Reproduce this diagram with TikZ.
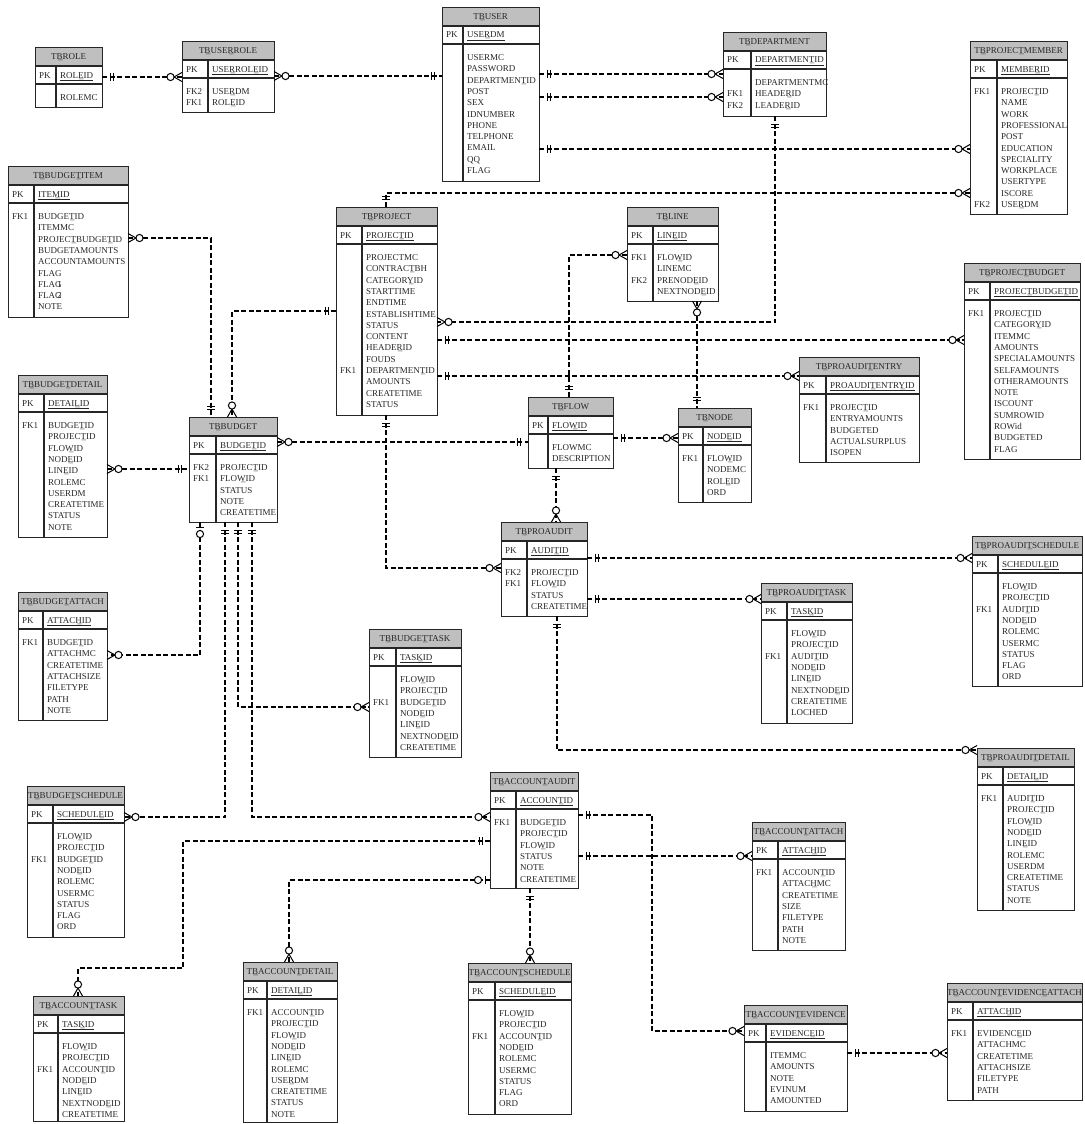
\documentclass[tikz,border=0pt]{standalone}
\usepackage{fontspec}
\setmainfont{Liberation Serif}

\newcommand{\us}{\llap{\_}}
\newcommand{\etable}[9]{%
  \def\tabx{#2}\def\taby{#3}%
  \fill[headfill] (#2,#3) rectangle ++(#4,19);
  \node[tbox, minimum width=#4pt, minimum height=#5pt] (#1) at (#2,#3) {};
  \draw[tline] (#2,#3+19) -- ++(#4,0) (#2,#3+37) -- ++(#4,0) (#2+#6,#3+19) -- (#2+#6,#3+#5);
  \node[ttext] at (#2+#4/2,#3+12.5) {#7};
  \node[ftext] at (#2+4,#3+31) {PK};
  \node[ftext] at (#2+#6+4,#3+31) {\underline{#8}};
  \foreach \fname [count=\fidx] in {#9} \node[ftext] at (#2+#6+4,#3+42.2+\fidx*11.3) {\fname};
}
\newcommand{\tkeys}[1]{\foreach \krow/\klab in {#1} \node[ftext] at (\tabx+4,\taby+42.2+\krow*11.3) {\klab};}
\newcommand{\mandone}[2]{\begin{scope}[shift={(#1)},rotate=#2]
  \draw[sym] (8,-4) -- (8,4) (11,-4) -- (11,4);
\end{scope}}
\newcommand{\zeromany}[2]{\begin{scope}[shift={(#1)},rotate=#2]
  \draw[sym] (0,-4.5) -- (8,0) -- (0,4.5);
  \draw[sym,fill=white] (11.5,0) circle[radius=3.6pt];
\end{scope}}
\newcommand{\zeroone}[2]{\begin{scope}[shift={(#1)},rotate=#2]
  \draw[sym] (5,-4) -- (5,4);
  \draw[sym,fill=white] (12,0) circle[radius=3.6pt];
\end{scope}}

\begin{document}
\begin{tikzpicture}[x=1pt,y=-1pt,
  tbox/.style={draw=black!85, line width=1.2pt, rectangle, anchor=north west, inner sep=0pt},
  tline/.style={draw=black!85, line width=1.2pt},
  headfill/.style={fill=black!25},
  ttext/.style={anchor=base, inner sep=0pt, font=\fontsize{9}{11}\selectfont, text=black!85},
  ftext/.style={anchor=base west, inner sep=0pt, font=\fontsize{9}{11}\selectfont, text=black!85},
  rel/.style={draw=black, line width=1.7pt, dash pattern=on 5pt off 2.5pt},
  sym/.style={draw=black, line width=1pt, solid}]
\useasboundingbox (0,0) rectangle (1084,1124);
\clip (0,0) rectangle (1084,1124);

\etable{role}{35}{47}{67}{60}{21}{TB\us ROLE}{ROLE\us ID}{ROLEMC}
\etable{urole}{182}{41}{92}{71}{26}{TB\us USER\us ROLE}{USER\us ROLE\us ID}{USER\us DM,ROLE\us ID}
\tkeys{1/FK2,2/FK1}
\etable{user}{442}{7}{97}{174}{21}{TB\us USER}{USER\us DM}{USERMC,PASSWORD,DEPARTMENT\us ID,POST,SEX,IDNUMBER,PHONE,TELPHONE,EMAIL,QQ,FLAG}
\etable{dept}{723}{32}{103}{84}{28}{TB\us DEPARTMENT}{DEPARTMENT\us ID}{DEPARTMENTMC,HEADER\us ID,LEADER\us ID}
\tkeys{2/FK1,3/FK2}
\etable{member}{970}{41}{97}{173}{27}{TB\us PROJECT\us MEMBER}{MEMBER\us ID}{PROJECT\us ID,NAME,WORK,PROFESSIONAL,POST,EDUCATION,SPECIALITY,WORKPLACE,USERTYPE,ISCORE,USER\us DM}
\tkeys{1/FK1,11/FK2}
\etable{bitem}{8}{166}{120}{151}{26}{TB\us BUDGET\us ITEM}{ITEM\us ID}{BUDGET\us ID,ITEMMC,PROJECT\us BUDGET\us ID,BUDGETAMOUNTS,ACCOUNTAMOUNTS,FLAG,FLAG\llap{1},FLAG\llap{2},NOTE}
\tkeys{1/FK1}
\etable{project}{336}{207}{101}{208}{26}{TB\us PROJECT}{PROJECT\us ID}{PROJECTMC,CONTRACT\us BH,CATEGORY\us ID,STARTTIME,ENDTIME,ESTABLISHTIME,STATUS,CONTENT,HEADER\us ID,FOUDS,DEPARTMENT\us ID,AMOUNTS,CREATETIME,STATUS}
\tkeys{11/FK1}
\etable{line}{627}{207}{91}{94}{26}{TB\us LINE}{LINE\us ID}{FLOW\us ID,LINEMC,PRENODE\us ID,NEXTNODE\us ID}
\tkeys{1/FK1,3/FK2}
\etable{pbudget}{964}{263}{116}{196}{26}{TB\us PROJECT\us BUDGET}{PROJECT\us BUDGET\us ID}{PROJECT\us ID,CATEGORY\us ID,ITEMMC,AMOUNTS,SPECIALAMOUNTS,SELFAMOUNTS,OTHERAMOUNTS,NOTE,ISCOUNT,SUMROWID,ROWid,BUDGETED,FLAG}
\tkeys{1/FK1}
\etable{entry}{799}{357}{120}{105}{27}{TB\us PROAUDIT\us ENTRY}{PROAUDIT\us ENTRY\us ID}{PROJECT\us ID,ENTRYAMOUNTS,BUDGETED,ACTUALSURPLUS,ISOPEN}
\tkeys{1/FK1}
\etable{flow}{528}{397}{85}{71}{20}{TB\us FLOW}{FLOW\us ID}{FLOWMC,DESCRIPTION}
\etable{node}{678}{408}{73}{94}{25}{TB\us NODE}{NODE\us ID}{FLOW\us ID,NODEMC,ROLE\us ID,ORD}
\tkeys{1/FK1}
\etable{bdetail}{18}{375}{89}{162}{26}{TB\us BUDGET\us DETAIL}{DETAIL\us ID}{BUDGET\us ID,PROJECT\us ID,FLOW\us ID,NODE\us ID,LINE\us ID,ROLEMC,USERDM,CREATETIME,STATUS,NOTE}
\tkeys{1/FK1}
\etable{budget}{189}{417}{88}{105}{27}{TB\us BUDGET}{BUDGET\us ID}{PROJECT\us ID,FLOW\us ID,STATUS,NOTE,CREATETIME}
\tkeys{1/FK2,2/FK1}
\etable{battach}{18}{592}{89}{128}{25}{TB\us BUDGET\us ATTACH}{ATTACH\us ID}{BUDGET\us ID,ATTACHMC,CREATETIME,ATTACHSIZE,FILETYPE,PATH,NOTE}
\tkeys{1/FK1}
\etable{paudit}{501}{522}{86}{94}{26}{TB\us PROAUDIT}{AUDIT\us ID}{PROJECT\us ID,FLOW\us ID,STATUS,CREATETIME}
\tkeys{1/FK2,2/FK1}
\etable{pschedule}{972}{536}{110}{150}{26}{TB\us PROAUDIT\us SCHEDULE}{SCHEDULE\us ID}{FLOW\us ID,PROJECT\us ID,AUDIT\us ID,NODE\us ID,ROLEMC,USERMC,STATUS,FLAG,ORD}
\tkeys{3/FK1}
\etable{ptask}{761}{583}{91}{140}{26}{TB\us PROAUDIT\us TASK}{TASK\us ID}{FLOW\us ID,PROJECT\us ID,AUDIT\us ID,NODE\us ID,LINE\us ID,NEXTNODE\us ID,CREATETIME,LOCHED}
\tkeys{3/FK1}
\etable{pdetail}{977}{748}{97}{162}{26}{TB\us PROAUDIT\us DETAIL}{DETAIL\us ID}{AUDIT\us ID,PROJECT\us ID,FLOW\us ID,NODE\us ID,LINE\us ID,ROLEMC,USERDM,CREATETIME,STATUS,NOTE}
\tkeys{1/FK1}
\etable{btask}{369}{629}{92}{128}{27}{TB\us BUDGET\us TASK}{TASK\us ID}{FLOW\us ID,PROJECT\us ID,BUDGET\us ID,NODE\us ID,LINE\us ID,NEXTNODE\us ID,CREATETIME}
\tkeys{3/FK1}
\etable{aaudit}{490}{772}{88}{116}{26}{TB\us ACCOUNT\us AUDIT}{ACCOUNT\us ID}{BUDGET\us ID,PROJECT\us ID,FLOW\us ID,STATUS,NOTE,CREATETIME}
\tkeys{1/FK1}
\etable{aattach}{752}{822}{93}{128}{26}{TB\us ACCOUNT\us ATTACH}{ATTACH\us ID}{ACCOUNT\us ID,ATTACH\us MC,CREATETIME,SIZE,FILETYPE,PATH,NOTE}
\tkeys{1/FK1}
\etable{bschedule}{27}{786}{97}{151}{26}{TB\us BUDGET\us SCHEDULE}{SCHEDULE\us ID}{FLOW\us ID,PROJECT\us ID,BUDGET\us ID,NODE\us ID,ROLEMC,USERMC,STATUS,FLAG,ORD}
\tkeys{3/FK1}
\etable{atask}{33}{996}{91}{125}{25}{TB\us ACCOUNT\us TASK}{TASK\us ID}{FLOW\us ID,PROJECT\us ID,ACCOUNT\us ID,NODE\us ID,LINE\us ID,NEXTNODE\us ID,CREATETIME}
\tkeys{3/FK1}
\etable{adetail}{243}{962}{94}{160}{24}{TB\us ACCOUNT\us DETAIL}{DETAIL\us ID}{ACCOUNT\us ID,PROJECT\us ID,FLOW\us ID,NODE\us ID,LINE\us ID,ROLEMC,USER\us DM,CREATETIME,STATUS,NOTE}
\tkeys{1/FK1}
\etable{aschedule}{468}{963}{103}{151}{27}{TB\us ACCOUNT\us SCHEDULE}{SCHEDULE\us ID}{FLOW\us ID,PROJECT\us ID,ACCOUNT\us ID,NODE\us ID,ROLEMC,USERMC,STATUS,FLAG,ORD}
\tkeys{3/FK1}
\etable{evidence}{744}{1005}{103}{106}{22}{TB\us ACCOUNT\us EVIDENCE}{EVIDENCE\us ID}{ITEMMC,AMOUNTS,NOTE,EVINUM,AMOUNTED}
\etable{eattach}{947}{983}{135}{117}{26}{TB\us ACCOUNT\us EVIDENCE\us ATTACH}{ATTACH\us ID}{EVIDENCE\us ID,ATTACHMC,CREATETIME,ATTACHSIZE,FILETYPE,PATH}
\tkeys{1/FK1}

\coordinate (role-r) at (102,77);
\coordinate (urole-l) at (182,77);
\coordinate (urole-r) at (274,76);
\coordinate (user-l) at (442,76);
\coordinate (user-r1) at (539,74);
\coordinate (dept-l1) at (723,74);
\coordinate (user-r2) at (539,97);
\coordinate (dept-l2) at (723,97);
\coordinate (user-r3) at (539,149);
\coordinate (member-l1) at (970,149);
\coordinate (project-t) at (386,207);
\coordinate (member-l2) at (970,193);
\coordinate (dept-b) at (775,116);
\coordinate (project-r1) at (437,322);
\coordinate (project-r2) at (437,340);
\coordinate (pbudget-l) at (964,340);
\coordinate (project-r3) at (437,376);
\coordinate (entry-l) at (799,376);
\coordinate (flow-t) at (569,397);
\coordinate (line-l) at (627,255);
\coordinate (line-b) at (697,301);
\coordinate (node-t) at (697,408);
\coordinate (flow-r) at (613,438);
\coordinate (node-l) at (678,438);
\coordinate (budget-r) at (277,442);
\coordinate (flow-l) at (528,442);
\coordinate (bitem-r) at (128,238);
\coordinate (budget-t1) at (211,417);
\coordinate (project-l) at (336,311);
\coordinate (budget-t2) at (232,417);
\coordinate (bdetail-r) at (107,469);
\coordinate (budget-l) at (189,469);
\coordinate (budget-b1) at (200,522);
\coordinate (battach-r) at (107,655);
\coordinate (budget-b2) at (225,522);
\coordinate (bschedule-r) at (124,817);
\coordinate (budget-b3) at (238,522);
\coordinate (btask-l) at (369,707);
\coordinate (budget-b4) at (252,522);
\coordinate (aaudit-l1) at (490,817);
\coordinate (project-b) at (386,415);
\coordinate (paudit-l) at (501,568);
\coordinate (flow-b) at (556,468);
\coordinate (paudit-t) at (556,522);
\coordinate (paudit-r1) at (587,558);
\coordinate (pschedule-l) at (972,558);
\coordinate (paudit-r2) at (587,599);
\coordinate (ptask-l) at (761,599);
\coordinate (paudit-b) at (557,616);
\coordinate (pdetail-l) at (977,750);
\coordinate (aaudit-r1) at (578,815);
\coordinate (bend1) at (652,815);
\coordinate (evidence-l) at (744,1031);
\coordinate (aaudit-r2) at (578,856);
\coordinate (aattach-l) at (752,856);
\coordinate (aaudit-l2) at (490,841);
\coordinate (bend2) at (183,841);
\coordinate (bend3) at (183,968);
\coordinate (bend4) at (78,968);
\coordinate (atask-t) at (78,996);
\coordinate (aaudit-l3) at (490,880);
\coordinate (adetail-t) at (289,962);
\coordinate (aaudit-b) at (530,888);
\coordinate (aschedule-t) at (530,963);
\coordinate (evidence-r) at (847,1053);
\coordinate (eattach-l) at (947,1053);

\draw[rel] (role-r) -- (urole-l);
\draw[rel] (urole-r) -- (user-l);
\draw[rel] (user-r1) -- (dept-l1);
\draw[rel] (user-r2) -- (dept-l2);
\draw[rel] (user-r3) -- (member-l1);
\draw[rel] (project-t) |- (member-l2);
\draw[rel] (dept-b) |- (project-r1);
\draw[rel] (project-r2) -- (pbudget-l);
\draw[rel] (project-r3) -- (entry-l);
\draw[rel] (flow-t) |- (line-l);
\draw[rel] (line-b) -- (node-t);
\draw[rel] (flow-r) -- (node-l);
\draw[rel] (budget-r) -- (flow-l);
\draw[rel] (bitem-r) -| (budget-t1);
\draw[rel] (project-l) -| (budget-t2);
\draw[rel] (bdetail-r) -- (budget-l);
\draw[rel] (budget-b1) |- (battach-r);
\draw[rel] (budget-b2) |- (bschedule-r);
\draw[rel] (budget-b3) |- (btask-l);
\draw[rel] (budget-b4) |- (aaudit-l1);
\draw[rel] (project-b) |- (paudit-l);
\draw[rel] (flow-b) -- (paudit-t);
\draw[rel] (paudit-r1) -- (pschedule-l);
\draw[rel] (paudit-r2) -- (ptask-l);
\draw[rel] (paudit-b) |- (pdetail-l);
\draw[rel] (aaudit-r1) -- (bend1) |- (evidence-l);
\draw[rel] (aaudit-r2) -- (aattach-l);
\draw[rel] (aaudit-l2) -- (bend2) -- (bend3) -- (bend4) -- (atask-t);
\draw[rel] (aaudit-l3) -| (adetail-t);
\draw[rel] (aaudit-b) -- (aschedule-t);
\draw[rel] (evidence-r) -- (eattach-l);

\mandone{role-r}{0} \zeromany{urole-l}{180}
\zeromany{urole-r}{0} \mandone{user-l}{180}
\mandone{user-r1}{0} \zeromany{dept-l1}{180}
\mandone{user-r2}{0} \zeromany{dept-l2}{180}
\mandone{user-r3}{0} \zeromany{member-l1}{180}
\mandone{project-t}{90} \zeromany{member-l2}{180}
\mandone{dept-b}{270} \zeromany{project-r1}{0}
\mandone{project-r2}{0} \zeromany{pbudget-l}{180}
\mandone{project-r3}{0} \zeromany{entry-l}{180}
\mandone{flow-t}{90} \zeromany{line-l}{180}
\zeromany{line-b}{270} \mandone{node-t}{90}
\mandone{flow-r}{0} \zeromany{node-l}{180}
\zeromany{budget-r}{0} \mandone{flow-l}{180}
\zeromany{bitem-r}{0} \mandone{budget-t1}{90}
\mandone{project-l}{180} \zeromany{budget-t2}{90}
\zeromany{bdetail-r}{0} \mandone{budget-l}{180}
\zeroone{budget-b1}{270} \zeromany{battach-r}{0}
\mandone{budget-b2}{270} \zeromany{bschedule-r}{0}
\mandone{budget-b3}{270} \zeromany{btask-l}{180}
\mandone{budget-b4}{270} \zeromany{aaudit-l1}{180}
\mandone{project-b}{270} \zeromany{paudit-l}{180}
\mandone{flow-b}{270} \zeromany{paudit-t}{90}
\mandone{paudit-r1}{0} \zeromany{pschedule-l}{180}
\mandone{paudit-r2}{0} \zeromany{ptask-l}{180}
\mandone{paudit-b}{270} \zeromany{pdetail-l}{180}
\mandone{aaudit-r1}{0} \zeromany{evidence-l}{180}
\mandone{aaudit-r2}{0} \zeromany{aattach-l}{180}
\mandone{aaudit-l2}{180} \zeromany{atask-t}{90}
\zeroone{aaudit-l3}{180} \zeromany{adetail-t}{90}
\mandone{aaudit-b}{270} \zeromany{aschedule-t}{90}
\mandone{evidence-r}{0} \zeromany{eattach-l}{180}
\end{tikzpicture}
\end{document}
